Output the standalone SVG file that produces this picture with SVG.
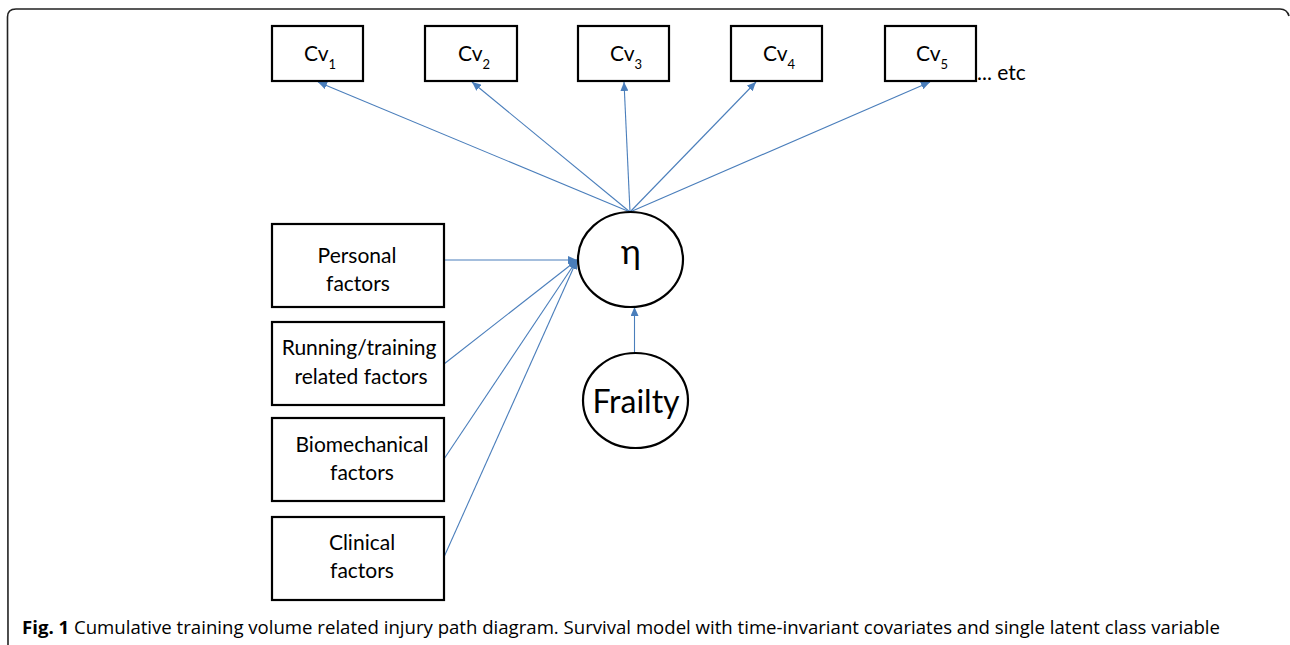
<svg xmlns="http://www.w3.org/2000/svg" width="1290" height="645" viewBox="0 0 1290 645">
<style>
.box{fill:#fff;stroke:#000;stroke-width:2.2}
.ell{fill:#fff;stroke:#000;stroke-width:2.2}
.t{font-family:Lato,"Liberation Sans",sans-serif;font-size:21px;fill:#000;text-anchor:middle}
.cv{font-family:Lato,"Liberation Sans",sans-serif;font-size:21px;fill:#000;text-anchor:middle}
.sub{font-size:13px}
.edge{stroke:#4a7ebb;stroke-width:1.1;fill:none;marker-end:url(#ah)}
.cap{font-family:"Open Sans","Liberation Sans",sans-serif;font-size:18px;fill:#000}
</style>
<defs>
<marker id="ah" markerUnits="userSpaceOnUse" markerWidth="10" markerHeight="8" refX="9" refY="4" orient="auto">
<path d="M0,0 L9,4 L0,8 Z" fill="#4a7ebb"/>
</marker>
</defs>
<rect width="1290" height="645" fill="#fff"/>
<path d="M8,645 L7.5,17 Q7.5,9 16,9 L1280,9 Q1287,9 1289,16" fill="none" stroke="#222" stroke-width="1.6"/>

<g id="connectors">
<line class="edge" x1="630" y1="212" x2="318" y2="82"/>
<line class="edge" x1="630" y1="212" x2="472" y2="82"/>
<line class="edge" x1="630" y1="212" x2="624" y2="82"/>
<line class="edge" x1="630" y1="212" x2="756" y2="82"/>
<line class="edge" x1="630" y1="212" x2="930" y2="82"/>
<line class="edge" x1="444" y1="260" x2="577" y2="260"/>
<line class="edge" x1="444" y1="364" x2="577" y2="260"/>
<line class="edge" x1="444" y1="459" x2="577" y2="260"/>
<line class="edge" x1="444" y1="557" x2="577" y2="260"/>
<line class="edge" x1="634.5" y1="353" x2="634.5" y2="307"/>
</g>

<g id="cv1"><rect class="box" x="272" y="26" width="91" height="55"/><text class="cv" x="320" y="61">Cv<tspan class="sub" dy="8">1</tspan></text></g>
<g id="cv2"><rect class="box" x="425" y="26" width="92" height="55"/><text class="cv" x="474" y="61">Cv<tspan class="sub" dy="8">2</tspan></text></g>
<g id="cv3"><rect class="box" x="578" y="26" width="91" height="55"/><text class="cv" x="626" y="61">Cv<tspan class="sub" dy="8">3</tspan></text></g>
<g id="cv4"><rect class="box" x="731" y="26" width="91" height="55"/><text class="cv" x="779" y="61">Cv<tspan class="sub" dy="8">4</tspan></text></g>
<g id="cv5"><rect class="box" x="885" y="26" width="91" height="55"/><text class="cv" x="932" y="61">Cv<tspan class="sub" dy="8">5</tspan></text></g>
<g id="etc"><text class="cv" x="977" y="80" style="text-anchor:start">... etc</text></g>

<g id="eta"><ellipse class="ell" cx="630.5" cy="259.5" rx="52.5" ry="47.5"/><text class="t" x="631" y="264" style="font-size:34px">η</text></g>
<g id="frailty"><ellipse class="ell" cx="635.5" cy="400.5" rx="52.5" ry="47.5"/><text class="t" x="636" y="413" style="font-size:32px">Frailty</text></g>

<g id="personal"><rect class="box" x="272" y="224" width="172" height="83"/><text class="t" x="357" y="263">Personal</text><text class="t" x="358" y="291">factors</text></g>
<g id="running"><rect class="box" x="272" y="322" width="172" height="83"/><text class="t" x="359" y="355">Running/training</text><text class="t" x="361" y="384">related factors</text></g>
<g id="biomech"><rect class="box" x="272" y="418" width="172" height="83"/><text class="t" x="362" y="452">Biomechanical</text><text class="t" x="362" y="480">factors</text></g>
<g id="clinical"><rect class="box" x="272" y="517" width="172" height="83"/><text class="t" x="362" y="550">Clinical</text><text class="t" x="362" y="578">factors</text></g>

<text class="cap" x="22" y="634" textLength="1198" lengthAdjust="spacingAndGlyphs"><tspan font-weight="bold">Fig. 1</tspan> Cumulative training volume related injury path diagram. Survival model with time-invariant covariates and single latent class variable</text>
</svg>
